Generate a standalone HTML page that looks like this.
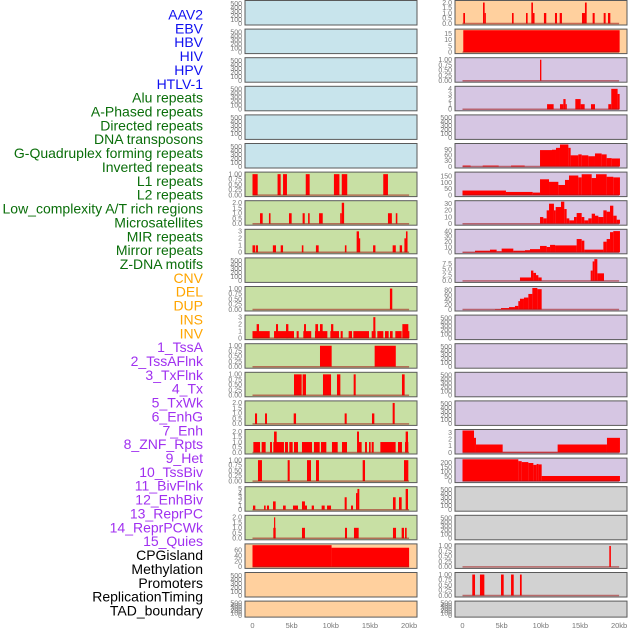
<!DOCTYPE html>
<html><head><meta charset="utf-8">
<style>
html,body{margin:0;padding:0;background:#fff;}
svg{display:block;font-family:"Liberation Sans",sans-serif;}
</style></head>
<body>
<svg id="chart" width="630" height="630" viewBox="0 0 630 630">
<g id="labels"></g>
<g id="panels"></g>
<g id="xaxes"></g>
</svg>
<script>
// ---------- Track labels ----------
const labelNames = ["AAV2","EBV","HBV","HIV","HPV","HTLV-1","Alu repeats","A-Phased repeats","Directed repeats","DNA transposons","G-Quadruplex forming repeats","Inverted repeats","L1 repeats","L2 repeats","Low_complexity A/T rich regions","Microsatellites","MIR repeats","Mirror repeats","Z-DNA motifs","CNV","DEL","DUP","INS","INV","1_TssA","2_TssAFlnk","3_TxFlnk","4_Tx","5_TxWk","6_EnhG","7_Enh","8_ZNF_Rpts","9_Het","10_TssBiv","11_BivFlnk","12_EnhBiv","13_ReprPC","14_ReprPCWk","15_Quies","CPGisland","Methylation","Promoters","ReplicationTiming","TAD_boundary"];
const labelGroupSizes = [6,13,5,15,5];
const labelGroupColors = ["#1010f0","#0a6e0a","#ffa500","#a030f0","#000000"];

// ---------- Tick label arrays ----------
const ticksEmpty = ["0","100","200","300","400","500"];
const ticksOne = ["0.00","0.25","0.50","0.75","1.00"];
const ticksTwo = ["0.0","0.5","1.0","1.5","2.0"];
const ticksThree = ["0","1","2","3"];
const ticksFour = ["0","1","2","3","4"];
const ticksFive = ["0","1","2","3","4","5"];
const ticksCpg = ["0","20","40","60"];
const ticksFifteen = ["0","5","10","15"];
const ticksNinety = ["0","30","60","90"];
const ticks150 = ["0","50","100","150"];
const ticks30 = ["0","10","20","30"];
const ticks40 = ["0","10","20","30","40"];
const ticks75 = ["0.0","2.5","5.0","7.5"];
const ticks80 = ["0","20","40","60","80"];
const ticks200 = ["0","50","100","150","200"];
const xTickLabels = ["0","5kb","10kb","15kb","20kb"];
const xTickValues = [0,5,10,15,20];

// ---------- Series data: [startKb, endKb, value] ----------
const leftL1 = [[0,0.66,1],[3.2,3.6,1],[3.9,4.4,1],[6.8,7.3,1],[10.4,11.1,1],[11.4,12.1,1],[16.7,17.3,1]];
const leftL2 = [[0.96,1.3,1],[2.1,2.3,1],[4.66,5.0,1],[6.4,6.67,1],[7.1,7.3,1],[8.5,8.97,1],[11.2,11.4,1],[11.4,11.7,2],[17.3,17.8,1],[18.3,18.5,1]];
const leftLowComplex = [[0,0.35,1],[0.45,0.7,1],[2.6,3.0,1],[3.6,3.9,1],[6.3,6.5,1],[8.1,8.45,1],[11.8,12.0,1],[13.3,13.6,3],[13.6,13.75,2],[15.4,15.7,1],[17.9,18.3,1],[18.8,19.1,1],[19.4,19.6,2],[19.6,19.8,3]];
const leftMIR = [[17.55,17.85,1]];
const leftMirror = [[0.0,2.2,1],[2.75,5.3,1],[5.64,5.9,1],[6.49,7.5,1],[7.98,9.56,1],[9.94,11.05,1],[11.26,11.52,1],[12.28,12.71,1],[12.88,14.88,1],[15.22,15.73,1],[15.94,16.71,1],[16.92,17.39,1],[17.56,17.9,1],[18.24,19.05,1],[19.14,20.03,1],[0.53,0.83,2],[3.0,3.26,2],[4.28,4.58,2],[6.58,6.83,2],[8.03,8.37,2],[8.62,8.96,2],[10.03,10.32,2],[15.43,15.69,3],[19.14,19.9,2]];
const leftCNV = [[8.62,10.11,1],[15.6,18.3,1]];
const leftDEL = [[5.3,6.28,1],[6.4,6.83,1],[9.0,10.03,1],[10.79,11.22,1],[12.92,13.18,1],[19.09,19.43,1]];
const leftDUP = [[0.32,0.58,1],[1.6,1.85,1],[5.26,5.56,1],[11.77,12.03,1],[15.26,15.56,1],[17.9,18.16,2]];
const leftINS = [[0.11,0.96,1],[1.17,1.68,1],[2.24,2.49,1],[2.66,4.02,1],[4.15,4.53,1],[4.7,5.13,1],[5.3,5.81,1],[6.32,7.6,1],[7.85,8.58,1],[8.75,9.43,1],[10.15,10.88,1],[11.43,12.07,1],[13.43,13.94,1],[14.37,14.62,1],[14.88,15.09,1],[15.22,15.48,1],[16.33,18.28,1],[18.58,19.09,1],[19.48,19.9,1],[2.75,3.09,2],[13.35,13.6,2],[19.56,19.86,2]];
const leftINV = [[0.7,1.21,1],[4.49,4.75,1],[6.96,7.47,1],[8.11,8.49,1],[14.07,14.37,1],[19.35,19.9,1]];
const leftTssA = [[0.06,0.36,1],[1.47,1.68,1],[1.85,2.11,1],[2.62,2.96,2],[3.9,4.24,1],[5.17,5.81,1],[6.32,6.7,2],[6.7,6.96,1],[7.56,7.85,1],[8.83,9.22,1],[9.52,10.03,1],[11.77,12.03,3],[12.58,12.84,1],[13.22,13.4,4],[13.4,13.64,5],[17.94,18.28,3],[18.71,19.05,3],[19.56,19.86,5]];
const leftTssAFlnk = [[2.66,2.96,1],[2.75,2.9,2],[6.32,6.7,1],[11.81,12.07,1],[12.96,13.56,1],[17.94,18.33,1],[19.05,19.35,1],[19.48,19.69,1]];
const leftCpg = [[0,10.1,77],[10.1,20,68]];
const rightAAV2 = [[0.1,0.32,1],[2.62,2.83,2],[2.83,2.95,1],[6.32,6.53,1],[8.11,8.32,1],[8.79,9.0,2],[9.0,9.2,1],[10.4,10.7,1],[11.81,12.07,1],[12.41,12.7,1],[15.26,15.64,1],[15.64,15.86,2],[16.62,16.88,1],[18.03,18.28,1],[18.58,18.88,1]];
const rightEBV = [[0.1,20.07,18]];
const rightHBV = [[9.9,10.07,1]];
const rightHIV = [[10.8,11.64,1],[12.45,12.88,1],[12.88,13.17,2],[13.17,13.3,1],[14.41,15.09,2],[15.09,15.6,1],[16.41,16.92,1],[18.62,19.0,1],[19.0,19.81,4],[19.81,20.07,3]];
const rightHTLV = [[0.02,1.04,5],[2.58,4.62,5],[6.2,7.94,5],[9.9,11.43,88],[11.43,11.94,90],[11.94,12.45,100],[12.45,13.52,118],[13.52,13.81,100],[13.81,14.79,60],[14.79,15.22,65],[15.22,16.07,60],[16.07,16.92,55],[16.92,17.77,70],[17.77,18.41,65],[18.41,19.05,45],[19.05,20.11,43]];
const rightAlu = [[0,5.55,36],[5.55,8.96,25],[8.96,9.9,20],[9.9,11.05,125],[11.05,12.24,105],[12.24,13.09,80],[13.09,13.6,120],[13.6,14.79,155],[14.79,15.22,140],[15.22,16.5,165],[16.5,17.05,135],[17.05,18.41,165],[18.41,19.26,145],[19.26,20.11,140]];
const rightAPhased = [[9.9,10.32,10],[10.32,10.75,8],[10.75,11.05,20],[11.05,11.68,30],[11.68,11.9,20],[11.9,12.58,25],[12.58,13.0,33],[13.0,13.3,22],[13.3,13.64,8],[13.64,14.24,5],[14.24,14.58,10],[14.58,15.22,16],[15.22,15.56,10],[15.56,16.07,5],[16.07,16.5,8],[16.5,16.92,15],[16.92,17.35,12],[17.35,17.99,10],[17.99,18.41,20],[18.41,18.84,18],[18.84,19.26,27],[19.26,19.69,12],[19.69,20.11,6]];
const rightDirected = [[0,1.6,0.5],[1.6,3.51,3],[3.51,4.36,5],[4.36,5.0,2],[5.0,6.49,7],[6.49,7.98,3],[7.98,8.62,4],[8.62,9.9,6],[9.9,10.75,12],[10.75,11.18,10],[11.18,11.82,14],[11.82,14.58,13],[14.58,15.22,25],[15.22,15.56,22],[15.56,17.99,5],[17.99,18.41,20],[18.41,18.84,25],[18.84,19.26,38],[19.26,20.11,40]];
const rightDNA = [[7.34,8.75,1.5],[8.75,9.05,4.5],[9.05,9.39,3.5],[9.39,9.69,2.5],[9.69,10.11,1.5],[16.37,16.62,4.5],[16.62,16.84,8.5],[16.84,17.22,9.5],[17.22,18.07,3.3]];
const rightGQuad = [[4.15,4.92,2],[4.92,5.94,6],[5.94,6.7,10],[6.7,7.13,15],[7.13,7.34,35],[7.34,7.85,45],[7.85,8.41,50],[8.41,8.92,65],[8.92,9.56,90],[9.56,10.11,85]];
const rightInverted = [[0,1.47,3.3],[1.47,1.72,2.2],[1.72,5.13,1.2],[5.13,12.15,0.1],[12.15,18.45,1.2],[18.45,20.11,2.2]];
const rightL1 = [[0,7.13,235],[7.13,7.56,215],[7.56,8.41,205],[8.41,9.05,195],[9.05,9.47,175],[9.47,9.69,185],[9.69,10.11,180],[10.11,20.11,55]];
const rightCpg = [[18.75,18.95,1]];
const rightMeth = [[1.25,1.6,1],[2.23,2.79,1],[4.92,5.26,1],[6.2,6.54,1],[7.34,7.56,1]];

// ---------- Panel layout config ----------
const BLUE="#c8e4ec", GREEN="#c8e0a4", ORANGE="#ffd09e", PURPLE="#d6c6e3", GRAY="#d2d2d2";
const leftPanels = [
 ["aav2",BLUE,null,ticksEmpty,550],["ebv",BLUE,null,ticksEmpty,550],["hbv",BLUE,null,ticksEmpty,550],["hiv",BLUE,null,ticksEmpty,550],["hpv",BLUE,null,ticksEmpty,550],["htlv",BLUE,null,ticksEmpty,550],
 ["l1",GREEN,leftL1,ticksOne,1.05],["l2",GREEN,leftL2,ticksTwo,2.1],["low-complexity",GREEN,leftLowComplex,ticksThree,3.15],["microsatellites",GREEN,null,ticksEmpty,550],["mir",GREEN,leftMIR,ticksOne,1.05],["mirror",GREEN,leftMirror,ticksThree,3.15],
 ["cnv",GREEN,leftCNV,ticksOne,1.05],["del",GREEN,leftDEL,ticksOne,1.05],["dup",GREEN,leftDUP,ticksTwo,2.1],["ins",GREEN,leftINS,ticksTwo,2.1],["inv",GREEN,leftINV,ticksOne,1.05],["tssa",GREEN,leftTssA,ticksFive,5.3],["tssaflnk",GREEN,leftTssAFlnk,ticksTwo,2.1],
 ["cpg",ORANGE,leftCpg,ticksCpg,78],["promoters",ORANGE,null,ticksEmpty,550],["tad",ORANGE,null,ticksEmpty,550]
];
const rightPanels = [
 ["aav2",ORANGE,rightAAV2,ticksTwo,2.1],["ebv",ORANGE,rightEBV,ticksFifteen,18.1],["hbv",PURPLE,rightHBV,ticksOne,1.05],["hiv",PURPLE,rightHIV,ticksFour,4.3],["hpv",PURPLE,null,ticksEmpty,550],
 ["htlv",PURPLE,rightHTLV,ticksNinety,118],["alu",PURPLE,rightAlu,ticks150,174],["a-phased",PURPLE,rightAPhased,ticks30,33],["directed",PURPLE,rightDirected,ticks40,41.5],["dna-transposons",PURPLE,rightDNA,ticks75,9.6],["g-quadruplex",PURPLE,rightGQuad,ticks80,92],
 ["empty-a",PURPLE,null,ticksEmpty,550],["empty-b",PURPLE,null,ticksEmpty,550],["empty-c",PURPLE,null,ticksEmpty,550],["empty-d",PURPLE,null,ticksEmpty,550],
 ["inverted",PURPLE,rightInverted,ticksThree,3.3],["l1",PURPLE,rightL1,ticks200,237],
 ["empty-e",GRAY,null,ticksEmpty,550],["empty-f",GRAY,null,ticksEmpty,550],["cpg",GRAY,rightCpg,ticksOne,1.05],["methylation",GRAY,rightMeth,ticksOne,1.05],["tad",GRAY,null,ticksEmpty,550]
];

const NS="http://www.w3.org/2000/svg";
function mk(tag, attrs, parent){const e=document.createElementNS(NS,tag);for(const k in attrs)e.setAttribute(k,attrs[k]);parent.appendChild(e);return e;}

// labels
const lg=document.getElementById('labels');
let gi=0, gc=0;
labelNames.forEach((name,i)=>{
  if(gc>=labelGroupSizes[gi]){gi++;gc=0;}
  gc++;
  const t=mk('text',{x:203,y:19.5+i*13.86,'text-anchor':'end','font-size':'14',fill:labelGroupColors[gi]},lg);
  t.textContent=name;
  
  
});

const KB=7.83;
function panelTop(i){return i*28.6+0.5;}
function panelH(i){return i===21?16:24.5;}

const pg=document.getElementById('panels');
function drawColumn(panels, x0, w, zeroX, side){
  panels.forEach((p,i)=>{
    const [name,color,data,ticks,ymax]=p;
    const top=panelTop(i), h=panelH(i), bottom=top+h;
    const g=mk('g',{},pg);
    
    
    const r=mk('rect',{x:x0,y:top,width:w,height:h,fill:color,stroke:'#5a5a5a','stroke-width':1},g);
    
    
    const y0=bottom-1.5, span=h-2.5;
    const ys=v=>y0-v/ymax*span;
    const xs=kb=>zeroX+kb*KB;
    // ticks
    ticks.forEach(t=>{
      const v=parseFloat(t);
      const tl=mk('text',{x:x0-3,y:ys(v)+2.3,'text-anchor':'end','font-size':'7',fill:'#777'},g);
      tl.textContent=t;
      
      
    });
    if(data){
      data.forEach(d=>{
        const x1=xs(d[0]), x2=xs(d[1]);
        const b=mk('rect',{x:x1,y:ys(d[2]),width:Math.max(1.2,x2-x1),height:y0-ys(d[2]),fill:'#ff0000'},g);
        
        
      });
      const bl=mk('line',{x1:xs(0),x2:xs(20),y1:y0,y2:y0,stroke:'rgba(160,20,20,0.55)','stroke-width':1.5},g);
      
      
    }
  });
}
drawColumn(leftPanels,245,172,252.5,'left');
drawColumn(rightPanels,455,172,462.5,'right');

// x axes
const xg=document.getElementById('xaxes');
[252.5,462.5].forEach((zx,ci)=>{
  xTickValues.forEach((v,k)=>{
    const t=mk('text',{x:zx+v*KB,y:628,'text-anchor':'middle','font-size':'7.5',fill:'#777'},xg);
    t.textContent=xTickLabels[k];
    
    
  });
});
</script>
</body></html>
